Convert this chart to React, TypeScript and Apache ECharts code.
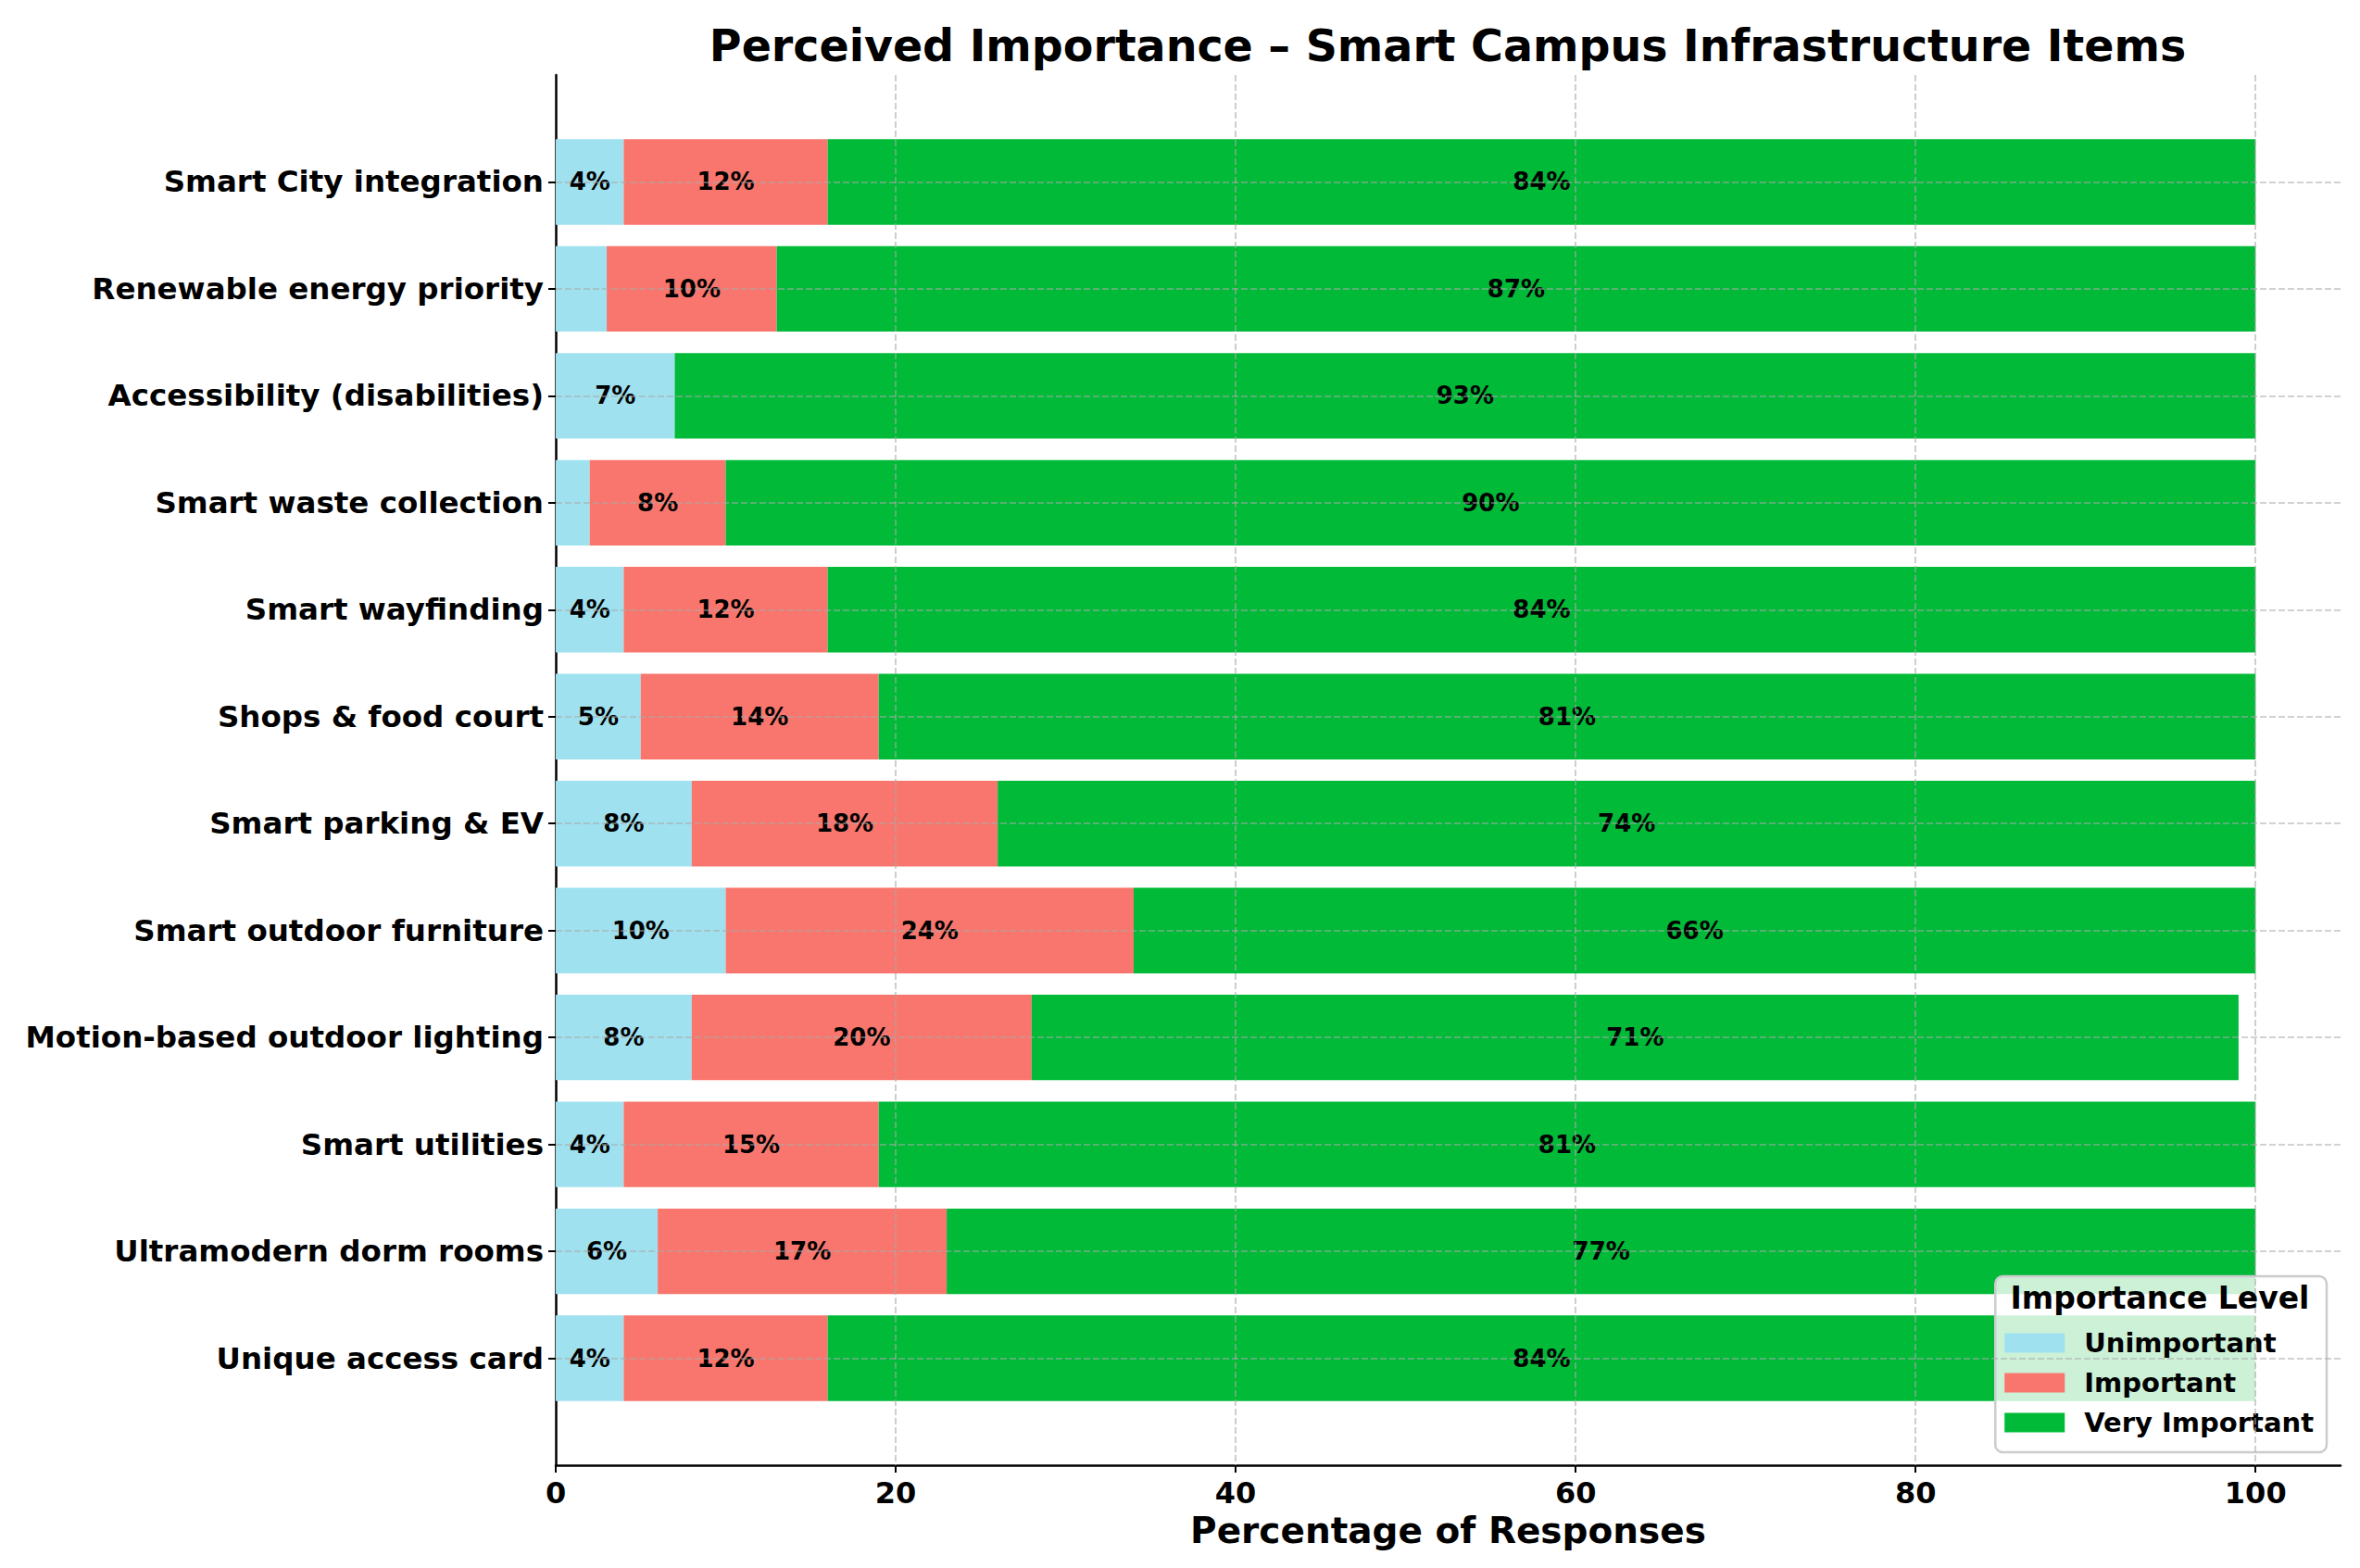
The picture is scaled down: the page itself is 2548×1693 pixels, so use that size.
import { useEffect, useRef } from "react";
import * as echarts from "echarts";

const categories = [
  "Smart City integration",
  "Renewable energy priority",
  "Accessibility (disabilities)",
  "Smart waste collection",
  "Smart wayfinding",
  "Shops & food court",
  "Smart parking & EV",
  "Smart outdoor furniture",
  "Motion-based outdoor lighting",
  "Smart utilities",
  "Ultramodern dorm rooms",
  "Unique access card",
];
const unimportant = [4, 3, 7, 2, 4, 5, 8, 10, 8, 4, 6, 4];
const important = [12, 10, 0, 8, 12, 14, 18, 24, 20, 15, 17, 12];
const veryImportant = [84, 87, 93, 90, 84, 81, 74, 66, 71, 81, 77, 84];
const levels = ["Unimportant", "Important", "Very Important"];
const levelColors = ["#9fe1ef", "#f8766d", "#00ba38"];
const xTicks = [0, 20, 40, 60, 80, 100];

const FONT = '"DejaVu Sans", sans-serif';

export default function App() {
  const chartRef = useRef<HTMLDivElement>(null);

  useEffect(() => {
    document.body.style.margin = "0";
    if (!chartRef.current) return;
    const chart = echarts.init(chartRef.current, null, { renderer: "svg" });

    const values = [unimportant, important, veryImportant];
    const inRange = (i: number) => i >= 0 && i < categories.length;

    const option: echarts.EChartsOption = {
      animation: false,
      backgroundColor: "#ffffff",
      textStyle: { fontFamily: FONT },
      grid: { left: 600, right: 21, top: 81, bottom: 111 },
      xAxis: {
        type: "value",
        min: 0,
        max: 105,
        interval: 20,
        name: "Percentage of Responses",
        nameLocation: "middle",
        nameGap: 51,
        nameTextStyle: { fontSize: 39, fontWeight: "bold", color: "#000", fontFamily: FONT },
        axisLine: { show: true, lineStyle: { color: "#000", width: 2.5 } },
        axisTick: { show: true, length: 8, lineStyle: { color: "#000", width: 2 }, customValues: xTicks },
        axisLabel: {
          fontSize: 32,
          fontWeight: "bold",
          color: "#000",
          margin: 14,
          fontFamily: FONT,
          customValues: xTicks,
        },
        splitLine: { show: false },
      },
      yAxis: {
        type: "category",
        data: categories,
        inverse: true,
        boundaryGap: false,
        min: -1,
        max: categories.length,
        axisLine: { show: true, lineStyle: { color: "#000", width: 2.5 } },
        axisTick: {
          show: true,
          length: 8,
          interval: (i: number) => inRange(i),
          lineStyle: { color: "#000", width: 2 },
        },
        axisLabel: {
          fontSize: 32.5,
          fontWeight: "bold",
          color: "#000",
          margin: 13,
          fontFamily: FONT,
          interval: (i: number) => inRange(i),
        },
        splitLine: { show: false },
      },
      legend: {
        data: levels,
        orient: "vertical",
        right: 36,
        bottom: 125,
        icon: "rect",
        itemWidth: 65,
        itemHeight: 21,
        itemGap: 9,
        padding: [55, 14, 15, 10],
        backgroundColor: "rgba(255,255,255,0.8)",
        borderColor: "#cccccc",
        borderWidth: 2.5,
        borderRadius: 8,
        textStyle: {
          fontSize: 29,
          fontWeight: "bold",
          color: "#000",
          fontFamily: FONT,
          lineHeight: 34,
          padding: [0, 0, 0, 16],
        },
      },
      graphic: [
        {
          type: "text",
          x: 1563,
          y: 49,
          z: 100,
          style: {
            text: "Perceived Importance – Smart Campus Infrastructure Items",
            font: `bold 47.5px ${FONT}`,
            fill: "#000",
            align: "center",
            verticalAlign: "middle",
          },
        },
        {
          type: "text",
          x: 2332,
          y: 1401,
          z: 100,
          style: {
            text: "Importance Level",
            font: `bold 33px ${FONT}`,
            fill: "#000",
            align: "center",
            verticalAlign: "middle",
          },
        },
      ],
      series: levels.map((name, k) => ({
        name,
        type: "bar",
        stack: "total",
        barWidth: "80%",
        data: values[k],
        itemStyle: { color: levelColors[k] },
        emphasis: { disabled: true },
        label: {
          show: true,
          position: "inside",
          fontSize: 26,
          fontWeight: "bold",
          color: "#000",
          fontFamily: FONT,
          formatter: (p: any) => (p.value >= 4 ? `${p.value}%` : ""),
        },
        markLine:
          k === levels.length - 1
            ? {
                silent: true,
                symbol: ["none", "none"],
                label: { show: false },
                emphasis: { disabled: true },
                lineStyle: { color: "rgba(170,170,170,0.7)", type: [7, 3], width: 1.6 },
                data: [
                  ...xTicks.filter((v) => v > 0).map((v) => ({ xAxis: v })),
                  ...categories.map((_, i) => ({ yAxis: i })),
                ],
              }
            : undefined,
      })),
    };

    chart.setOption(option);
    return () => {
      chart.dispose();
    };
  }, []);

  return <div ref={chartRef} style={{ width: 2548, height: 1693 }} />;
}
